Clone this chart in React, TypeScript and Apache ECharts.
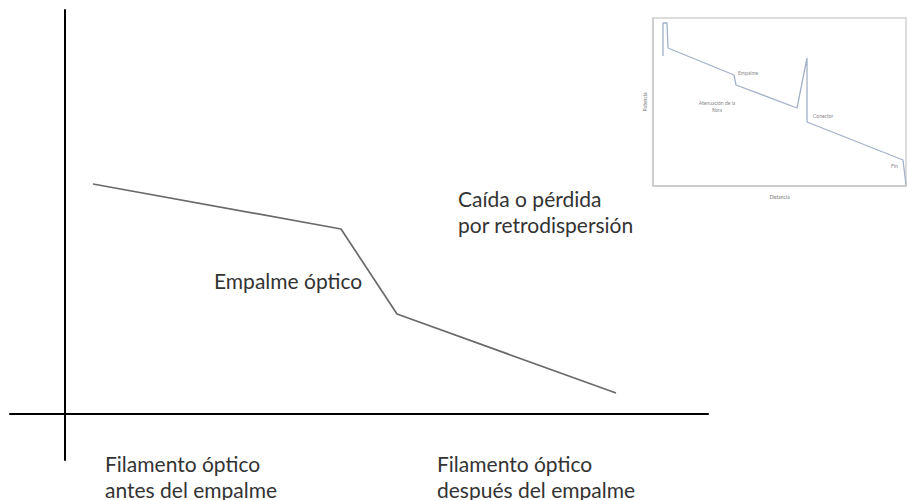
import React, { useEffect, useRef } from "react";
import * as echarts from "echarts";

// Main schematic trace (distance units, power units)
const mainX = [2.8, 27.6, 33.2, 55.1];
const mainY = [23.0, 18.5, 10.0, 2.1];

// Inset OTDR trace (distance, power)
const insetX = [10, 10, 14, 15, 81, 83, 144, 154, 154, 250, 253];
const insetY = [130, 163, 163, 138, 111, 101, 78, 128, 64, 26, 1];

const mainTexts = [
  { text: "Empalme óptico", x: 214, y: 280 },
  { text: "Caída o pérdida\npor retrodispersión", x: 458, y: 211 },
  { text: "Filamento óptico\nantes del empalme", x: 105, y: 476 },
  { text: "Filamento óptico\ndespués del empalme", x: 437, y: 476 },
];

const FONT = "Lato, 'Open Sans', sans-serif";

export default function App() {
  const ref = useRef<HTMLDivElement>(null);
  useEffect(() => {
    if (!ref.current) return;
    const chart = echarts.init(ref.current, null, { renderer: "svg" });
    const hiddenAxis = {
      splitLine: { show: false },
      axisLabel: { show: false },
      axisTick: { show: false },
    };
    chart.setOption({
      animation: false,
      backgroundColor: "#ffffff",
      grid: [
        { left: 10, top: 10, width: 698, height: 450 },
        {
          left: 653,
          top: 18,
          width: 253,
          height: 168,
          show: true,
          borderColor: "#d2d2d2",
          borderWidth: 1.5,
          backgroundColor: "#ffffff",
        },
      ],
      xAxis: [
        {
          type: "value",
          gridIndex: 0,
          min: -5.5,
          max: 64.3,
          ...hiddenAxis,
          axisLine: { show: true, onZero: true, lineStyle: { color: "#000", width: 2 } },
        },
        {
          type: "value",
          gridIndex: 1,
          min: 0,
          max: 253,
          ...hiddenAxis,
          axisLine: { show: true, onZero: false, lineStyle: { color: "#c8c8c8", width: 1.5 } },
          name: "Distancia",
          nameLocation: "middle",
          nameGap: 8,
          nameTextStyle: { fontSize: 5, color: "#777", fontFamily: FONT },
        },
      ],
      yAxis: [
        {
          type: "value",
          gridIndex: 0,
          min: -4.6,
          max: 40.4,
          ...hiddenAxis,
          axisLine: { show: true, onZero: true, lineStyle: { color: "#000", width: 2 } },
        },
        {
          type: "value",
          gridIndex: 1,
          min: 0,
          max: 168,
          ...hiddenAxis,
          axisLine: { show: true, onZero: false, lineStyle: { color: "#c8c8c8", width: 1.5 } },
          name: "Potencia",
          nameLocation: "middle",
          nameGap: 6,
          nameTextStyle: { fontSize: 5, color: "#777", fontFamily: FONT },
        },
      ],
      series: [
        {
          type: "line",
          xAxisIndex: 0,
          yAxisIndex: 0,
          data: mainX.map((x, i) => [x, mainY[i]]),
          showSymbol: false,
          lineStyle: { color: "#6a6a6a", width: 1.7 },
          silent: true,
        },
        {
          type: "line",
          xAxisIndex: 1,
          yAxisIndex: 1,
          data: insetX.map((x, i) => [x, insetY[i]]),
          showSymbol: false,
          lineStyle: { color: "#a3b1c8", width: 1.3 },
          silent: true,
        },
      ],
      graphic: [
        ...mainTexts.map((t) => ({
          type: "text",
          x: t.x,
          y: t.y,
          style: {
            text: t.text,
            fill: "#333",
            font: `21px ${FONT}`,
            lineHeight: 26,
            textAlign: "left",
            textVerticalAlign: "middle",
          },
        })),
        {
          type: "text",
          x: 738,
          y: 73,
          style: { text: "Empalme", fill: "#888", font: `5px ${FONT}`, textVerticalAlign: "middle" },
        },
        {
          type: "text",
          x: 717,
          y: 106,
          style: {
            text: "Atenuación de la\nfibra",
            fill: "#888",
            font: `5px ${FONT}`,
            lineHeight: 7,
            textAlign: "center",
            textVerticalAlign: "middle",
          },
        },
        {
          type: "text",
          x: 813,
          y: 116,
          style: { text: "Conector", fill: "#888", font: `5px ${FONT}`, textVerticalAlign: "middle" },
        },
        {
          type: "text",
          x: 891,
          y: 166,
          style: { text: "Fin", fill: "#888", font: `5px ${FONT}`, textVerticalAlign: "middle" },
        },
      ],
    });
    return () => chart.dispose();
  }, []);
  return (
    <div
      ref={ref}
      style={{ position: "fixed", left: 0, top: 0, width: 907, height: 500 }}
    />
  );
}
